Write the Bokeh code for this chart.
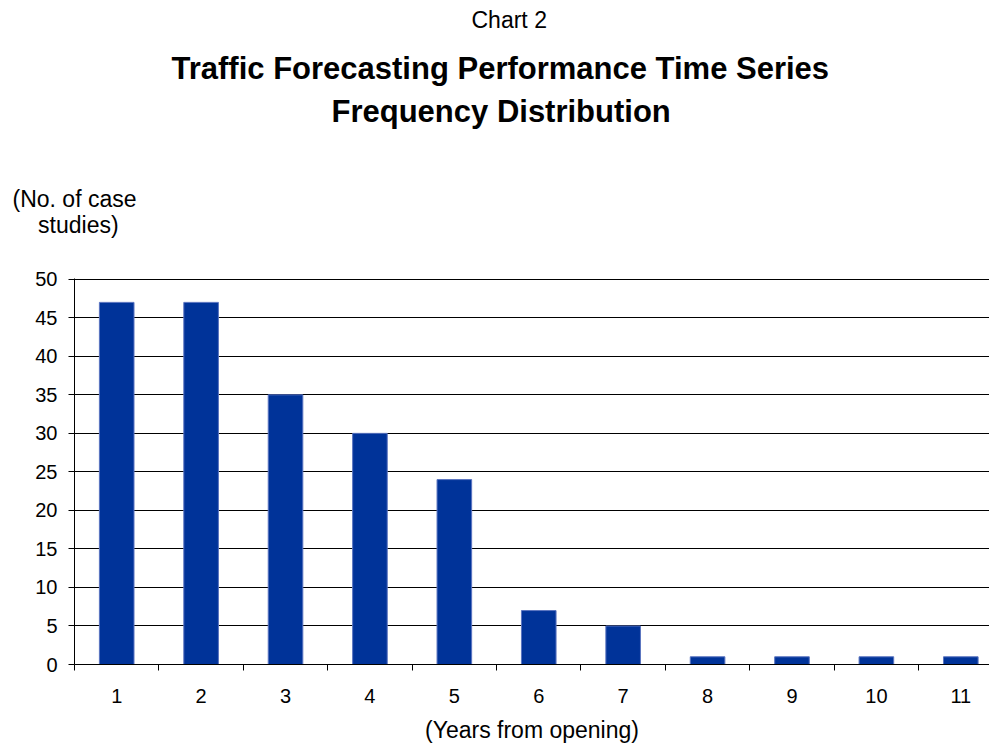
from bokeh.plotting import figure
from bokeh.models import Range1d, FixedTicker, Title
from bokeh.embed import file_html
from bokeh.resources import INLINE

years = [1, 2, 3, 4, 5, 6, 7, 8, 9, 10, 11]
cases = [47, 47, 35, 30, 24, 7, 5, 1, 1, 1, 1]
y_ticks = [0, 5, 10, 15, 20, 25, 30, 35, 40, 45, 50]
year_edges = [0.5 + i for i in range(12)]

FONT = "Liberation Sans"

p = figure(width=989, height=745, output_backend="svg", toolbar_location=None,
           x_range=Range1d(0.5, 11.34), y_range=Range1d(0, 50.1),
           min_border_left=74, min_border_right=0, min_border_top=278,
           min_border_bottom=81)
p.outline_line_color = None
p.background_fill_color = "white"
p.border_fill_color = "white"

p.vbar(x=years, top=cases, width=0.41, fill_color="#003399",
       line_color="#5a74c0", line_width=1)

# grid
p.xgrid.grid_line_color = None
p.ygrid.grid_line_color = "black"
p.ygrid.grid_line_width = 1
p.ygrid.ticker = FixedTicker(ticks=y_ticks)

# y axis
p.yaxis.ticker = FixedTicker(ticks=y_ticks)
p.yaxis.axis_line_color = "black"
p.yaxis.major_tick_line_color = "black"
p.yaxis.major_tick_out = 6
p.yaxis.major_tick_in = 0
p.yaxis.minor_tick_line_color = None
p.yaxis.major_label_text_font = FONT
p.yaxis.major_label_text_font_size = "20px"
p.yaxis.major_label_text_color = "black"
p.yaxis.major_label_standoff = 11

# x axis
p.xaxis.ticker = FixedTicker(ticks=years, minor_ticks=year_edges)
p.xaxis.axis_line_color = "black"
p.xaxis.major_tick_line_color = None
p.xaxis.major_tick_out = 0
p.xaxis.major_tick_in = 0
p.xaxis.minor_tick_line_color = "black"
p.xaxis.minor_tick_out = 6
p.xaxis.minor_tick_in = 0
p.xaxis.major_label_text_font = FONT
p.xaxis.major_label_text_font_size = "20px"
p.xaxis.major_label_text_color = "black"
p.xaxis.major_label_standoff = 18
p.xaxis.axis_label = "(Years from opening)"
p.xaxis.axis_label_text_font = FONT
p.xaxis.axis_label_text_font_size = "23px"
p.xaxis.axis_label_text_font_style = "normal"
p.xaxis.axis_label_text_color = "black"
p.xaxis.axis_label_standoff = 11

NB = "\u00a0"
# titles, added from the frame outward: (text, size, style, offset, standoff)
titles = [
    ("(No. of case\n" + NB * 4 + "studies)", "23px", "normal", -62, 82),
    ("Frequency Distribution", "31px", "bold", 257, 27),
    ("Traffic Forecasting Performance Time Series", "31px", "bold", 97, -14),
    ("Chart 2\n", "23px", "normal", 397, -6),
]
for t, fs, st, off, so in titles:
    p.add_layout(Title(text=t, align="left", offset=off, standoff=so,
                       text_font=FONT, text_font_size=fs,
                       text_line_height=1.0,
                       text_font_style=st, text_color="black"), "above")

open("out.html", "w").write(file_html(p, INLINE))
